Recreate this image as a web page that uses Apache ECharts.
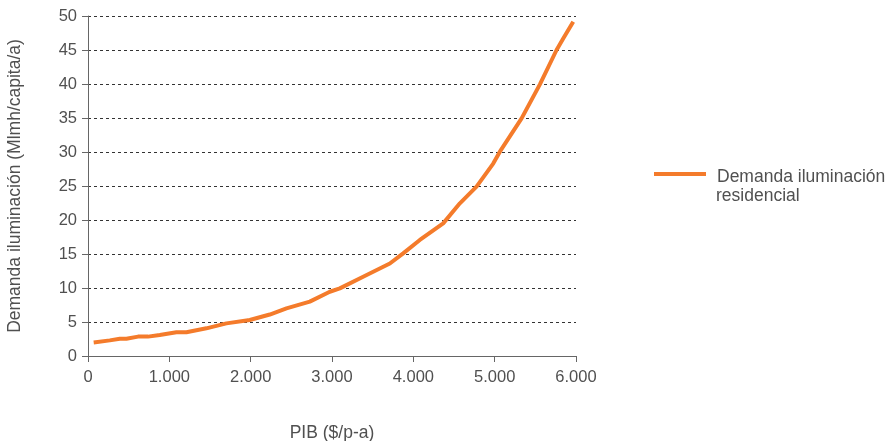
<!DOCTYPE html>
<html><head><meta charset="utf-8">
<script src="https://cdn.jsdelivr.net/npm/echarts@6/dist/echarts.min.js"></script>
<style>html,body{margin:0;padding:0;background:#fff}#c{width:891px;height:441px}</style>
</head><body><div id="c"></div>
<script>
const seriesName = 'Demanda iluminación residencial';
const legendLines = ['Demanda iluminación', 'residencial'];
const pib = [70, 268, 391, 472, 615, 738, 882, 1087, 1210, 1456, 1702, 1989, 2235, 2440, 2727, 2973, 3096, 3383, 3711, 3875, 4080, 4367, 4572, 4777, 4982, 5064, 5331, 5556, 5761, 5843, 5966];
const demanda = [2.0, 2.3, 2.55, 2.55, 2.85, 2.85, 3.1, 3.5, 3.5, 4.07, 4.8, 5.3, 6.1, 7.0, 8.0, 9.45, 9.95, 11.66, 13.6, 15.1, 17.06, 19.5, 22.45, 24.9, 28.3, 30.05, 34.95, 39.95, 45.0, 46.7, 49.15];
const xTicks = ['0', '1.000', '2.000', '3.000', '4.000', '5.000', '6.000'];

const chart = echarts.init(document.getElementById('c'));
const FONT = 'Liberation Sans, Arial, sans-serif';
const tick = {color: '#505050', fontFamily: FONT, fontSize: 16.5};
const big = {color: '#505050', fontFamily: FONT, fontSize: 17.5};
chart.setOption({
  animation: false,
  grid: {left: 88, right: 315, top: 16, bottom: 85, containLabel: false, outerBoundsMode: 'none'},
  legend: {
    left: 649, top: 163, orient: 'vertical',
    icon: 'path://M0,0L52,0L52,4L0,4Z M0,10L52,10Z', itemWidth: 52, itemHeight: 10,
    itemStyle: {borderWidth: 0},
    formatter: () => legendLines[0],
    textStyle: Object.assign({}, big, {padding: [0, 0, 0, 6]}),
    data: [seriesName]
  },
  graphic: [{
    type: 'text', left: 716, top: 187,
    style: {text: legendLines[1], fill: '#505050', font: '17.5px ' + FONT}
  }],
  xAxis: {
    type: 'value', min: 0, max: 6000, interval: 1000,
    name: 'PIB ($/p-a)', nameLocation: 'middle', nameGap: 68,
    nameTextStyle: big,
    axisLine: {lineStyle: {color: '#666', width: 1}},
    axisTick: {show: true, length: 6, lineStyle: {color: '#666'}},
    axisLabel: Object.assign({}, tick, {margin: 13, formatter: (v) => xTicks[Math.round(v / 1000)]}),
    splitLine: {show: false}
  },
  yAxis: {
    type: 'value', min: 0, max: 50, interval: 5,
    name: 'Demanda iluminación (Mlmh/capita/a)', nameLocation: 'middle', nameGap: 64,
    nameTextStyle: big,
    axisLine: {show: true, lineStyle: {color: '#666', width: 1}},
    axisTick: {show: true, length: 6, lineStyle: {color: '#666'}},
    axisLabel: Object.assign({}, tick, {margin: 11}),
    splitLine: {show: true, lineStyle: {color: '#333', type: [3, 3], width: 1}}
  },
  series: [{
    name: seriesName, type: 'line', showSymbol: false, symbol: 'none',
    data: pib.map((x, i) => [x, demanda[i]]),
    lineStyle: {color: '#F47B2B', width: 4},
    itemStyle: {color: '#F47B2B'}
  }]
});
</script></body></html>
